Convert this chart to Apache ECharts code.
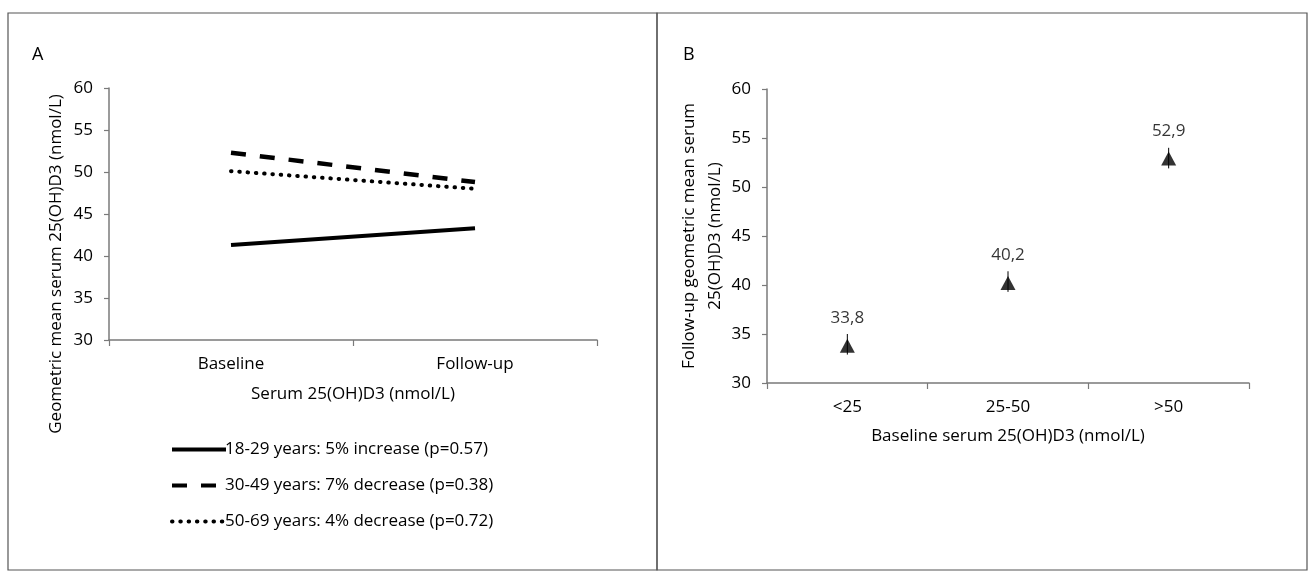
<!DOCTYPE html>
<html>
<head>
<meta charset="utf-8">
<script src="https://cdn.jsdelivr.net/npm/echarts@6/dist/echarts.min.js"></script>
<style>
  html, body { margin: 0; padding: 0; background: #fff; }
  #main { width: 1309px; height: 571px; }
</style>
</head>
<body>
<div id="main"></div>
<script>
// panel A: age groups, baseline vs follow-up
var timepoints = ['Baseline', 'Follow-up'];
var legendNames = [
    '18-29 years: 5% increase (p=0.57)',
    '30-49 years: 7% decrease (p=0.38)',
    '50-69 years: 4% decrease (p=0.72)'
];
var age1829 = [41.3, 43.3];
var age3049 = [52.3, 48.8];
var age5069 = [50.1, 48.0];

// panel B: follow-up by baseline group
var baselineGroups = ['<25', '25-50', '>50'];
var followUpMean = [33.8, 40.2, 52.9];
var followUpLow = [32.9, 39.3, 51.9];
var followUpHigh = [35.0, 41.4, 54.0];

var yTicks = [30, 35, 40, 45, 50, 55, 60];

var font = 'Open Sans';
var textColor = '#000';
var axisColor = '#7a7a7a';

var myChart = echarts.init(document.getElementById('main'));

function yAxisCommon(gridIndex) {
    return {
        type: 'value',
        gridIndex: gridIndex,
        min: yTicks[0],
        max: yTicks[yTicks.length - 1],
        interval: 5,
        splitLine: {show: false},
        axisLine: {show: true, lineStyle: {color: axisColor, width: 1.5}},
        axisTick: {show: true, length: 5, lineStyle: {color: axisColor, width: 1.2}},
        axisLabel: {color: textColor, fontFamily: font, fontSize: 17, margin: 16},
        nameLocation: 'middle',
        nameRotate: 90,
        nameTextStyle: {color: textColor, fontFamily: font, fontSize: 17}
    };
}

function xAxisCommon(gridIndex, cats) {
    return {
        type: 'category',
        gridIndex: gridIndex,
        data: cats,
        boundaryGap: true,
        axisLine: {lineStyle: {color: axisColor, width: 1.5}},
        axisTick: {show: true, length: 6, lineStyle: {color: axisColor, width: 1.2}},
        axisLabel: {color: textColor, fontFamily: font, fontSize: 17, margin: 16},
        nameLocation: 'middle',
        nameTextStyle: {color: textColor, fontFamily: font, fontSize: 17}
    };
}

var yA = yAxisCommon(0);
yA.name = 'Geometric mean serum 25(OH)D3 (nmol/L)';
yA.nameGap = 44;
// the label in panel A sits lower than the middle of its axis
yA.nameTextStyle.padding = [0, 100, 0, 0];
var yB = yAxisCommon(1);
yB.name = 'Follow-up geometric mean serum\n25(OH)D3 (nmol/L)';
yB.nameGap = 36;
yB.nameTextStyle.lineHeight = 26;

var xA = xAxisCommon(0, timepoints);
xA.name = 'Serum 25(OH)D3 (nmol/L)';
xA.nameGap = 46;
var xB = xAxisCommon(1, baselineGroups);
xB.name = 'Baseline serum 25(OH)D3 (nmol/L)';
xB.nameGap = 45;

var option = {
    backgroundColor: '#fff',
    animation: false,
    title: [
        {text: 'A', left: 27, top: 41, textStyle: {color: textColor, fontFamily: font, fontSize: 18, fontWeight: 'normal'}},
        {text: 'B', left: 678, top: 41, textStyle: {color: textColor, fontFamily: font, fontSize: 18, fontWeight: 'normal'}}
    ],
    legend: {
        orient: 'vertical',
        left: 165,
        top: 436,
        itemWidth: 54,
        itemHeight: 14,
        itemGap: 19,
        data: legendNames,
        itemStyle: {opacity: 0},
        lineStyle: {width: 4},
        textStyle: {color: textColor, fontFamily: font, fontSize: 17, padding: [0, 0, 0, -6]}
    },
    graphic: [
        {type: 'rect', shape: {x: 8, y: 13, width: 649, height: 557}, style: {fill: null, stroke: '#555', lineWidth: 1.2}},
        {type: 'rect', shape: {x: 657, y: 13, width: 650, height: 557}, style: {fill: null, stroke: '#555', lineWidth: 1.2}}
    ],
    grid: [
        {left: 109, top: 88, width: 488, height: 252},
        {left: 767, top: 89, width: 482, height: 294}
    ],
    xAxis: [xA, xB],
    yAxis: [yA, yB],
    series: [
        {
            name: legendNames[0],
            type: 'line',
            xAxisIndex: 0, yAxisIndex: 0,
            symbol: 'none',
            data: age1829,
            color: '#000',
            lineStyle: {color: '#000', width: 4}
        },
        {
            name: legendNames[1],
            type: 'line',
            xAxisIndex: 0, yAxisIndex: 0,
            symbol: 'none',
            data: age3049,
            color: '#000',
            lineStyle: {color: '#000', width: 4.5, type: [15, 14]}
        },
        {
            name: legendNames[2],
            type: 'line',
            xAxisIndex: 0, yAxisIndex: 0,
            symbol: 'none',
            data: age5069,
            color: '#000',
            lineStyle: {color: '#000', width: 4, type: [0.5, 7.8], cap: 'round'}
        },
        {
            type: 'custom',
            xAxisIndex: 1, yAxisIndex: 1,
            silent: true,
            data: followUpMean.map(function (v, i) { return [i, followUpLow[i], followUpHigh[i]]; }),
            renderItem: function (params, api) {
                var lo = api.coord([api.value(0), api.value(1)]);
                var hi = api.coord([api.value(0), api.value(2)]);
                return {
                    type: 'line',
                    shape: {x1: lo[0], y1: lo[1], x2: hi[0], y2: hi[1]},
                    style: {stroke: '#000', lineWidth: 1}
                };
            }
        },
        {
            type: 'scatter',
            xAxisIndex: 1, yAxisIndex: 1,
            symbol: 'triangle',
            symbolSize: [15, 14],
            itemStyle: {color: '#000'},
            data: followUpMean,
            label: {
                show: true,
                position: 'top',
                distance: 12,
                color: textColor,
                fontFamily: font,
                fontSize: 17,
                formatter: function (p) { return String(p.value).replace('.', ','); }
            }
        }
    ]
};

myChart.setOption(option);
</script>
</body>
</html>
